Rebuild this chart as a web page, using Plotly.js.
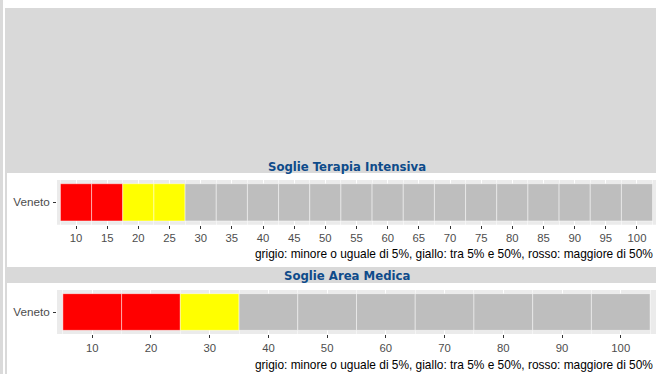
<!DOCTYPE html>
<html>
<head>
<meta charset="utf-8">
<script src="https://cdn.plot.ly/plotly-3.0.1.min.js"></script>
<style>html,body{margin:0;padding:0;background:#fff;}#chart{width:656px;height:374px;}</style>
</head>
<body>
<div id="chart"></div>
<script>
// ---- Data ----
var region = 'Veneto';

// Soglie Terapia Intensiva: tile centres and classes
var tiCenters = [10, 15, 20, 25, 30, 35, 40, 45, 50, 55, 60, 65, 70, 75, 80, 85, 90, 95, 100];
var tiLevels  = ['rosso','rosso','giallo','giallo','grigio','grigio','grigio','grigio','grigio','grigio',
                 'grigio','grigio','grigio','grigio','grigio','grigio','grigio','grigio','grigio'];
var tiTileWidth = 5;
var tiTicks = [10, 15, 20, 25, 30, 35, 40, 45, 50, 55, 60, 65, 70, 75, 80, 85, 90, 95, 100];

// Soglie Area Medica: tile centres and classes
var amCenters = [10, 20, 30, 40, 50, 60, 70, 80, 90, 100];
var amLevels  = ['rosso','rosso','giallo','grigio','grigio','grigio','grigio','grigio','grigio','grigio'];
var amTileWidth = 10;
var amTicks = [10, 20, 30, 40, 50, 60, 70, 80, 90, 100];

var levelColors = {rosso: '#FF0000', giallo: '#FFFF00', grigio: '#BEBEBE'};
var captionText = 'grigio: minore o uguale di 5%, giallo: tra 5% e 50%, rosso: maggiore di 50%';
var title1 = 'Soglie Terapia Intensiva';
var title2 = 'Soglie Area Medica';

// ---- Helpers ----
var W = 656, H = 374;
function px(x){ return x / W; }
function py(y){ return 1 - y / H; }

function tileTrace(centers, levels, w, xa, ya){
  return {
    type: 'bar', orientation: 'h',
    y: centers.map(function(){ return region; }),
    x: centers.map(function(){ return w; }),
    base: centers.map(function(c){ return c - w / 2; }),
    width: 1,
    marker: {color: levels.map(function(l){ return levelColors[l]; }),
             line: {color: 'rgba(255,255,255,0.45)', width: 1}},
    xaxis: xa, yaxis: ya, hoverinfo: 'skip', showlegend: false
  };
}

var tickFont = {family: 'Liberation Sans, Arial, sans-serif', size: 11.3, color: '#4D4D4D'};
var yTickFont = {family: 'Liberation Sans, Arial, sans-serif', size: 11.7, color: '#4D4D4D'};

function xAxis(range, ticks, minorTick0, minorDtick, anchor){
  return {
    domain: [px(57), 1], anchor: anchor, range: range,
    tickmode: 'array', tickvals: ticks, ticktext: ticks.map(String),
    ticks: 'outside', ticklen: 3, tickwidth: 1, tickcolor: '#333333',
    tickfont: tickFont, showgrid: true, gridcolor: '#FFFFFF', gridwidth: 1,
    minor: {tick0: minorTick0, dtick: minorDtick, showgrid: true, gridcolor: '#FFFFFF', gridwidth: 0.5},
    zeroline: false, showline: false, fixedrange: true
  };
}
function yAxis(domainY, anchor){
  return {
    domain: domainY, anchor: anchor, range: [-0.6, 0.6], type: 'category',
    ticks: 'outside', ticklen: 3, tickwidth: 1, tickcolor: '#333333', ticklabelstandoff: 1,
    tickfont: yTickFont, showgrid: false, zeroline: false, showline: false, fixedrange: true
  };
}

var data = [
  tileTrace(tiCenters, tiLevels, tiTileWidth, 'x', 'y'),
  tileTrace(amCenters, amLevels, amTileWidth, 'x2', 'y2')
];

var bgGray = '#D9D9D9';
var shapes = [
  {type:'rect', xref:'paper', yref:'paper', x0:px(0), x1:px(3), y0:py(374), y1:py(0), fillcolor:'#DADADA', line:{width:0}, layer:'below'},
  {type:'rect', xref:'paper', yref:'paper', x0:px(5), x1:px(656), y0:py(374), y1:py(8), fillcolor:bgGray, line:{width:0}, layer:'below'},
  {type:'rect', xref:'paper', yref:'paper', x0:px(7), x1:px(656), y0:py(267), y1:py(173), fillcolor:'#FFFFFF', line:{width:0}, layer:'below'},
  {type:'rect', xref:'paper', yref:'paper', x0:px(7), x1:px(656), y0:py(374), y1:py(283), fillcolor:'#FFFFFF', line:{width:0}, layer:'below'},
  {type:'rect', xref:'paper', yref:'paper', x0:px(57), x1:px(656), y0:py(224.7), y1:py(180), fillcolor:'#EBEBEB', line:{width:0}, layer:'below'},
  {type:'rect', xref:'paper', yref:'paper', x0:px(57), x1:px(656), y0:py(334), y1:py(290), fillcolor:'#EBEBEB', line:{width:0}, layer:'below'}
];

var titleFont = {family: 'DejaVu Sans Condensed, DejaVu Sans, sans-serif', size: 13, color: '#0E4B8A'};
var capFont = {family: 'Liberation Sans, Arial, sans-serif', size: 11.9, color: '#000000'};
var annotations = [
  {xref:'paper', yref:'paper', x:px(347), y:py(166), text:'<b>'+title1+'</b>', showarrow:false, xanchor:'center', yanchor:'middle', font:titleFont},
  {xref:'paper', yref:'paper', x:px(347), y:py(275), text:'<b>'+title2+'</b>', showarrow:false, xanchor:'center', yanchor:'middle', font:titleFont},
  {xref:'paper', yref:'paper', x:px(655), y:py(254), text:captionText, showarrow:false, xanchor:'right', yanchor:'middle', font:capFont},
  {xref:'paper', yref:'paper', x:px(655), y:py(365), text:captionText, showarrow:false, xanchor:'right', yanchor:'middle', font:capFont}
];

var layout = {
  width: W, height: H,
  margin: {l:0, r:0, t:0, b:0, pad:0},
  paper_bgcolor: '#FFFFFF', plot_bgcolor: 'rgba(0,0,0,0)',
  barmode: 'overlay', bargap: 0, showlegend: false,
  xaxis: xAxis([6.95, 103.05], tiTicks, 7.5, 5, 'y'),
  yaxis: yAxis([py(224.7), py(180)], 'x'),
  xaxis2: xAxis([4.0, 106.0], amTicks, 5, 10, 'y2'),
  yaxis2: yAxis([py(334), py(290)], 'x2'),
  shapes: shapes,
  annotations: annotations
};

Plotly.newPlot('chart', data, layout, {staticPlot: true, displayModeBar: false});
</script>
</body>
</html>
